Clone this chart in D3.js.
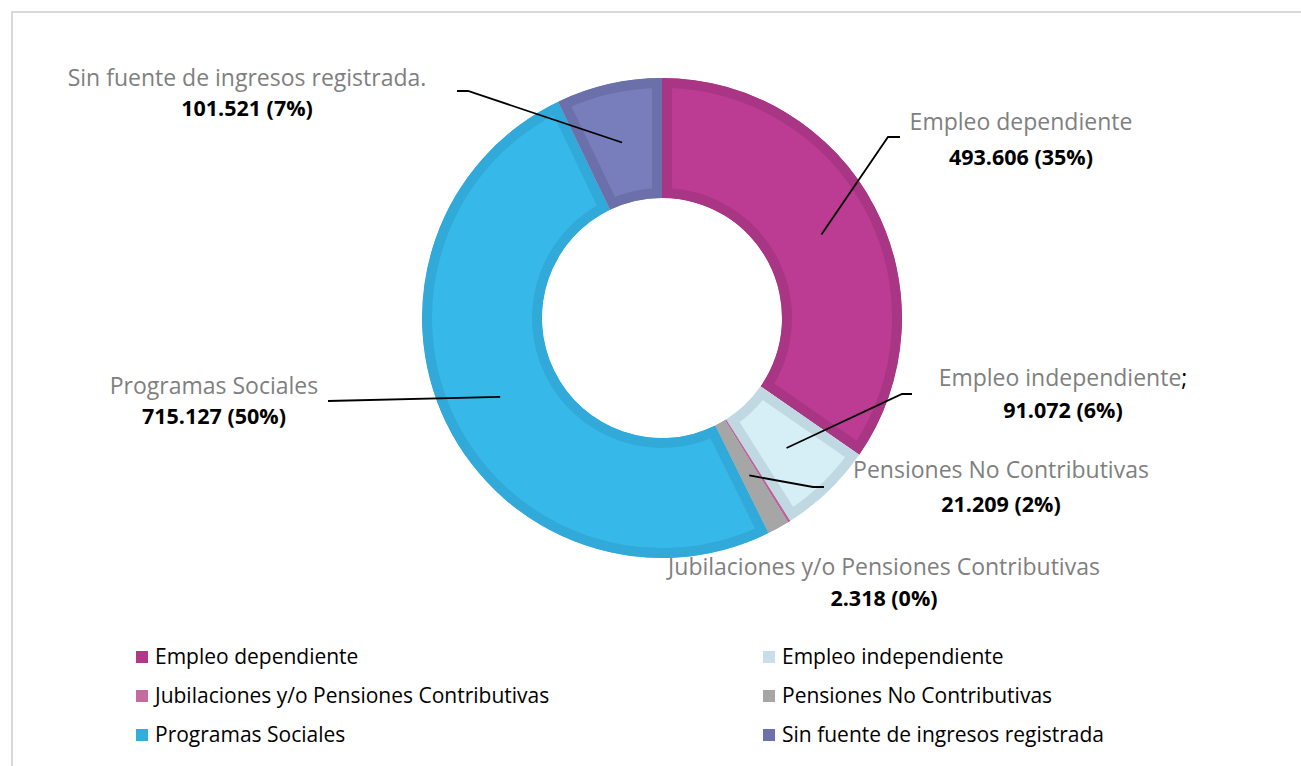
<!DOCTYPE html>
<html><head><meta charset="utf-8">
<script src="https://cdn.jsdelivr.net/npm/d3@7"></script>
<style>
html,body{margin:0;padding:0;background:#fff;}
svg{display:block;font-family:"Open Sans",sans-serif;}
</style></head>
<body>
<svg id="chart" width="1301" height="766"></svg>
<script>
const categories = ["Empleo dependiente","Empleo independiente","Jubilaciones y/o Pensiones Contributivas","Pensiones No Contributivas","Programas Sociales","Sin fuente de ingresos registrada"];
const values = [493.606, 91.072, 2.318, 21.209, 715.127, 101.521];
const labelNames = ["Empleo dependiente","Empleo independiente","Jubilaciones y/o Pensiones Contributivas","Pensiones No Contributivas","Programas Sociales","Sin fuente de ingresos registrada."];
const valueLabels = ["493.606 (35%)","91.072 (6%)","2.318 (0%)","21.209 (2%)","715.127 (50%)","101.521 (7%)"];
const fills = ["#BC3C93","#D6EEF6","#C0609A","#A6A6A6","#36B9E9","#787DBB"];
const strokes = ["#A93585","#BFD8E2","#C0609A","#A6A6A6","#31A9D9","#6C70AA"];
const legendColors = ["#B0378A","#C8DFE9","#C46CA0","#A6A6A6","#33AEDC","#6E71AA"];

const svg = d3.select("#chart");
// frame
svg.append("path").attr("d","M12,766 L12,12 L1301,12").attr("fill","none").attr("stroke","#d9d9d9").attr("stroke-width",2);

const cx = 662, cy = 318, rOut = 240, rIn = 120;
const pie = d3.pie().sort(null).value(d => d)(values);
const arc = d3.arc().innerRadius(rIn).outerRadius(rOut);
const g = svg.append("g").attr("transform",`translate(${cx},${cy})`);
const defs = svg.append("defs");
pie.forEach((p,i) => {
  defs.append("clipPath").attr("id","clip"+i).append("path").attr("d",arc(p));
});
g.selectAll("path.slice").data(pie).join("path")
  .attr("class","slice")
  .attr("d",arc)
  .attr("fill",(d,i)=>fills[i])
  .attr("stroke",(d,i)=>strokes[i])
  .attr("stroke-width",20)
  .attr("clip-path",(d,i)=>`url(#clip${i})`);

// labels (layout)
const labelLayout = [
  {x:1021, y1:130, y2:165, elbow:[888,137], end:[900,137]},
  {x:1063, y1:386, y2:418, elbow:[902,394], end:[912,394], semi:true},
  {x:884, y1:575, y2:606, elbow:null, end:null},
  {x:1001, y1:478, y2:512, elbow:[813,487], end:[824,487]},
  {x:214, y1:394, y2:424, elbow:null, end:[328,401]},
  {x:247, y1:86, y2:116, elbow:[468,91], end:[457,91]}
];
const fontName = 23, fontVal = 21.5;
pie.forEach((p,i) => {
  const L = labelLayout[i];
  const t = svg.append("text").attr("x",L.x).attr("y",L.y1).attr("text-anchor","middle")
    .attr("font-size",fontName).attr("fill","#7f7f7f");
  t.append("tspan").text(labelNames[i]);
  if (L.semi) t.append("tspan").attr("fill","#000").text(";");
  svg.append("text").attr("x",L.x).attr("y",L.y2).attr("text-anchor","middle")
    .attr("font-size",fontVal).attr("font-weight","bold").attr("fill","#000").text(valueLabels[i]);
  if (L.end) {
    const c = arc.centroid(p);
    const pts = [[cx+c[0], cy+c[1]]];
    if (L.elbow) pts.push(L.elbow);
    pts.push(L.end);
    svg.append("path").attr("d", d3.line()(pts)).attr("fill","none").attr("stroke","#000").attr("stroke-width",1.8);
  }
});

// legend
const legendX = [136, 763], legendY = [657, 696, 735];
categories.forEach((c,i) => {
  const col = i % 2, row = Math.floor(i/2);
  const x = legendX[col], y = legendY[row];
  svg.append("rect").attr("x",x).attr("y",y-6).attr("width",12).attr("height",12).attr("fill",legendColors[i]);
  svg.append("text").attr("x",x+19).attr("y",y+7).attr("font-size",21).attr("fill","#000").text(c);
});
</script>
</body></html>
